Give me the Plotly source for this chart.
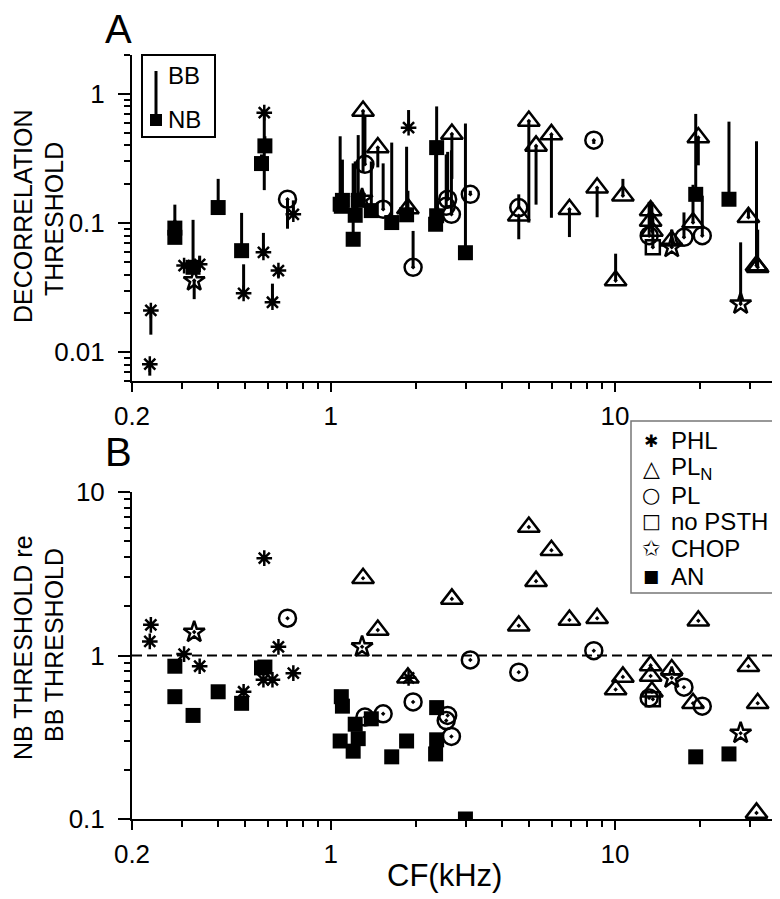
import plotly.graph_objects as go

# ---------------- data ----------------
# PHL (asterisk)
phl_cf = [0.231, 0.233, 0.305, 0.346, 0.494, 0.584, 0.580, 0.624, 0.655, 0.739, 1.88]
phl_nb = [0.0081, 0.0211, 0.0469, 0.048, 0.0286, 0.716, 0.0594, 0.0244, 0.0429, 0.117, 0.548]
phl_bb = [0.0066, 0.0137, 0.046, 0.056, 0.048, 0.18, 0.084, 0.034, 0.038, 0.15, 0.75]
phl_ratio = [1.22, 1.54, 1.02, 0.86, 0.60, 3.94, 0.71, 0.71, 1.13, 0.78, 0.73]

# PL_N (triangle)
pln_cf = [1.30, 1.465, 1.87, 2.67, 4.59, 4.98, 5.28, 5.98, 6.92, 8.66, 10.67, 10.06,
          13.36, 13.36, 13.5, 15.85, 18.83, 19.66, 29.5, 31.5, 31.8]
pln_nb = [0.737, 0.384, 0.13, 0.49, 0.114, 0.617, 0.396, 0.486, 0.128, 0.188, 0.163, 0.0359,
          0.125, 0.104, 0.087, 0.073, 0.101, 0.459, 0.111, 0.0469, 0.0455]
pln_bb = [0.248, 0.27, 0.178, 0.22, 0.075, 0.101, 0.139, 0.11, 0.078, 0.111, 0.22, 0.058,
          0.144, 0.139, 0.145, 0.089, 0.198, 0.28, 0.129, 0.43, 0.089]
pln_ratio = [2.97, 1.43, 0.73, 2.22, 1.52, 6.1, 2.85, 4.4, 1.65, 1.69, 0.74, 0.62,
             0.87, 0.75, 0.60, 0.82, 0.51, 1.63, 0.86, 0.109, 0.51]

# PL (circle)
pl_cf = [0.705, 1.32, 1.53, 1.95, 2.58, 2.55, 2.66, 3.10, 4.59, 8.43, 13.2, 17.5, 20.3]
pl_nb = [0.153, 0.285, 0.128, 0.0455, 0.153, 0.135, 0.117, 0.167, 0.132, 0.438, 0.08, 0.0776, 0.08]
pl_bb = [0.0905, 0.68, 0.29, 0.087, 0.356, 0.34, 0.366, 0.178, 0.167, 0.41, 0.146, 0.121, 0.163]
pl_ratio = [1.69, 0.42, 0.44, 0.52, 0.43, 0.40, 0.32, 0.94, 0.79, 1.07, 0.55, 0.64, 0.49]

# no PSTH (open square)
np_cf = [13.6]
np_nb = [0.065]
np_bb = [0.12]
np_ratio = [0.54]

# CHOP (star)
chop_cf = [0.331, 1.29, 15.85, 27.7]
chop_nb = [0.0359, 0.153, 0.065, 0.0237]
chop_bb = [0.0258, 0.135, 0.089, 0.071]
chop_ratio = [1.39, 1.13, 0.73, 0.335]

# AN (filled square)
an_cf = [0.283, 0.283, 0.328, 0.402, 0.486, 0.587, 0.571, 1.09, 1.10, 1.08, 1.20, 1.22,
         1.25, 1.39, 1.64, 1.85, 2.36, 2.36, 2.34, 2.98, 19.25, 25.2]
an_nb = [0.0915, 0.0776, 0.0455, 0.132, 0.0612, 0.396, 0.289, 0.135, 0.15, 0.14, 0.075, 0.115,
         0.15, 0.125, 0.101, 0.116, 0.384, 0.114, 0.098, 0.059, 0.167, 0.153]
an_bb = [0.106, 0.139, 0.106, 0.22, 0.12, 0.47, 0.34, 0.24, 0.31, 0.47, 0.29, 0.30,
         0.48, 0.30, 0.42, 0.39, 0.80, 0.37, 0.39, 0.59, 0.70, 0.61]
an_ratio = [0.86, 0.56, 0.43, 0.60, 0.51, 0.85, 0.84, 0.56, 0.49, 0.30, 0.26, 0.38,
            0.31, 0.41, 0.24, 0.30, 0.48, 0.305, 0.25, 0.10, 0.24, 0.25]

# legend labels and glyphs for panel B
legend_labels = ["PHL", "PL<sub>N</sub>", "PL", "no PSTH", "CHOP", "AN"]
legend_glyphs = ["\u2731", "\u25B3", "\u25CB", "\u25A1", "\u2729", "\u25A0"]
legend_glyph_sizes = [17, 22, 21, 20, 22, 17]

# tick values / labels
x_major = [0.2, 1, 10]
x_major_text = ["0.2", "1", "10"]
x_minor = [0.3, 0.4, 0.5, 0.6, 0.7, 0.8, 0.9, 2, 3, 4, 5, 6, 7, 8, 9, 20, 30, 40]
ya_major = [0.01, 0.1, 1]
ya_major_text = ["0.01", "0.1", "1"]
ya_minor = [0.006, 0.007, 0.008, 0.009, 0.02, 0.03, 0.04, 0.05, 0.06, 0.07, 0.08, 0.09,
            0.2, 0.3, 0.4, 0.5, 0.6, 0.7, 0.8, 0.9, 2]
yb_major = [0.1, 1, 10]
yb_major_text = ["0.1", "1", "10"]
yb_minor = [0.2, 0.3, 0.4, 0.5, 0.6, 0.7, 0.8, 0.9, 2, 3, 4, 5, 6, 7, 8, 9]

K = "black"
groups = [
    ("PHL", phl_cf, phl_nb, phl_bb, phl_ratio, dict(symbol="asterisk-open", size=13, color=K, line=dict(width=2.5, color=K))),
    ("PL_N", pln_cf, pln_nb, pln_bb, pln_ratio, dict(symbol="triangle-up-open-dot", size=19, color=K, line=dict(width=2.5, color=K))),
    ("PL", pl_cf, pl_nb, pl_bb, pl_ratio, dict(symbol="circle-open-dot", size=17, color=K, line=dict(width=2.5, color=K))),
    ("no PSTH", np_cf, np_nb, np_bb, np_ratio, dict(symbol="square-open-dot", size=14, color=K, line=dict(width=2.5, color=K))),
    ("CHOP", chop_cf, chop_nb, chop_bb, chop_ratio, dict(symbol="star-open-dot", size=16, color=K, line=dict(width=2.5, color=K))),
    ("AN", an_cf, an_nb, an_bb, an_ratio, dict(symbol="square", size=15, color=K, line=dict(width=0, color=K))),
]

FONT = "Liberation Sans, Arial, Helvetica, sans-serif"
fig = go.Figure()

# Panel A: vertical lines from NB to BB thresholds
lx, ly = [], []
for _, cf, nb, bb, _, _ in groups:
    for c, n, b in zip(cf, nb, bb):
        lx += [c, c, None]
        ly += [n, b, None]
fig.add_trace(go.Scatter(x=lx, y=ly, mode="lines", line=dict(color=K, width=3),
                         showlegend=False, hoverinfo="skip", xaxis="x", yaxis="y"))

# Panel A markers (NB threshold)
for name, cf, nb, bb, ratio, mk in groups:
    fig.add_trace(go.Scatter(x=cf, y=nb, mode="markers", marker=mk, name=name,
                             showlegend=False, xaxis="x", yaxis="y"))

# Panel B markers (NB/BB ratio)
for name, cf, nb, bb, ratio, mk in groups:
    fig.add_trace(go.Scatter(x=cf, y=ratio, mode="markers", marker=mk, name=name,
                             showlegend=False, xaxis="x2", yaxis="y2"))

tickfont = dict(family=FONT, size=26, color=K)

def xax(anchor):
    return dict(type="log", range=[-0.69897, 1.60206], anchor=anchor,
                showline=True, linecolor=K, linewidth=2, showgrid=False, zeroline=False,
                ticks="outside", ticklen=9, tickwidth=2, tickcolor=K,
                tickmode="array", tickvals=x_major, ticktext=x_major_text,
                tickfont=tickfont, ticklabelstandoff=2,
                minor=dict(tickmode="array", tickvals=x_minor, ticks="outside", ticklen=6,
                           tickwidth=2, tickcolor=K, showgrid=False))

def yax(anchor, rng, major, major_text, minor, dom):
    return dict(type="log", range=rng, anchor=anchor, domain=dom,
                showline=True, linecolor=K, linewidth=2, showgrid=False, zeroline=False,
                ticks="outside", ticklen=12, tickwidth=2, tickcolor=K,
                tickmode="array", tickvals=major, ticktext=major_text,
                tickfont=tickfont, ticklabelstandoff=8,
                minor=dict(tickmode="array", tickvals=minor, ticks="outside", ticklen=6,
                           tickwidth=2, tickcolor=K, showgrid=False))

fig.update_layout(
    width=780, height=899,
    margin=dict(l=124, r=2, t=47, b=88),
    paper_bgcolor="white", plot_bgcolor="white",
    font=dict(family=FONT, color=K),
    xaxis=xax("y"),
    yaxis=yax("x", [-2.2218, 0.30103], ya_major, ya_major_text, ya_minor, [0.5733, 1.0]),
    xaxis2=xax("y2"),
    yaxis2=yax("x2", [-1, 1], yb_major, yb_major_text, yb_minor, [0.0, 0.428]),
    showlegend=False,
)

# dashed reference line at ratio = 1 in panel B
fig.add_shape(type="line", xref="x2 domain", yref="y2", x0=0, x1=1, y0=1, y1=1,
              line=dict(color=K, width=2, dash="10px,5px"), layer="below")

# paper coordinate helper (plot area spans x 124..778 px, y 47..811 px)
def pp(px, py):
    return (px - 124) / 654, (811 - py) / 764

# Panel A inset legend (BB / NB)
def fa(px, py):
    return (px - 124) / 654, (373 - py) / 326

bx0, by0 = fa(134, 129)
bx1, by1 = fa(207, 47)
fig.add_shape(type="rect", xref="x domain", yref="y domain", x0=bx0, y0=by0, x1=bx1, y1=by1,
              line=dict(color=K, width=2), fillcolor="white", layer="above")
lx0, ly0 = fa(148, 63)
_, ly1 = fa(148, 112)
fig.add_shape(type="line", xref="x domain", yref="y domain", x0=lx0, x1=lx0, y0=ly0, y1=ly1,
              line=dict(color=K, width=3), layer="above")
sx0, sy0 = fa(142, 118)
sx1, sy1 = fa(154, 106)
fig.add_shape(type="rect", xref="x domain", yref="y domain", x0=sx0, y0=sy0, x1=sx1, y1=sy1,
              line=dict(color=K, width=0), fillcolor=K, layer="above")
for txt, py in [("BB", 68), ("NB", 112)]:
    tx, ty = fa(158, py)
    fig.add_annotation(x=tx, y=ty, xref="x domain", yref="y domain", text=txt, showarrow=False,
                       xanchor="left", yanchor="middle", font=dict(family=FONT, size=24, color=K))

# Panel B legend box (manual, to match the compact row spacing)
lx0p, ly0p = pp(623, 585)
lx1p, ly1p = pp(778, 413)
fig.add_shape(type="rect", xref="paper", yref="paper", x0=lx0p, y0=ly0p, x1=lx1p, y1=ly1p,
              line=dict(color="#777777", width=1.5), fillcolor="white", layer="above")
row_y = [433, 460, 487, 513, 540, 568]
for glyph, gsize, label, py in zip(legend_glyphs, legend_glyph_sizes, legend_labels, row_y):
    gx, gy = pp(643, py)
    fig.add_annotation(x=gx, y=gy, xref="paper", yref="paper", text=glyph, showarrow=False,
                       xanchor="center", yanchor="middle",
                       font=dict(family="DejaVu Sans", size=gsize, color=K))
    tx, ty = pp(661, py)
    fig.add_annotation(x=tx, y=ty, xref="paper", yref="paper", text=label, showarrow=False,
                       xanchor="left", yanchor="middle",
                       font=dict(family=FONT, size=24, color=K))

# Axis titles (one annotation per line) & panel labels
for txt, px, py in [("DECORRELATION", 15, 209), ("THRESHOLD", 46, 211),
                    ("NB THRESHOLD re", 15, 640), ("BB THRESHOLD", 46, 637)]:
    x, y = pp(px, py)
    fig.add_annotation(x=x, y=y, xref="paper", yref="paper", text=txt,
                       textangle=-90, showarrow=False, xanchor="center", yanchor="middle",
                       font=dict(family=FONT, size=25, color=K))
x, y = pp(436, 867)
fig.add_annotation(x=x, y=y, xref="paper", yref="paper", text="CF(kHz)",
                   showarrow=False, xanchor="center", yanchor="middle",
                   font=dict(family=FONT, size=31, color=K))
for txt, px, py in [("A", 110, 21), ("B", 110, 444)]:
    x, y = pp(px, py)
    fig.add_annotation(x=x, y=y, xref="paper", yref="paper", text=txt,
                       showarrow=False, xanchor="center", yanchor="middle",
                       font=dict(family=FONT, size=40, color=K))

fig.write_html("out.html")
